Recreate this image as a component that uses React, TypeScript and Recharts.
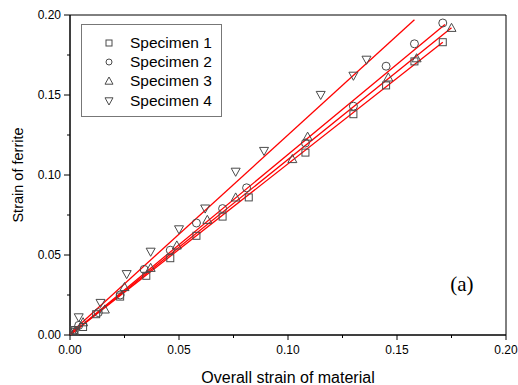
import React from 'react';
import {
  ScatterChart, Scatter, XAxis, YAxis, ReferenceArea, ReferenceDot, Legend,
} from 'recharts';

const specimen1 = [
  [0.002, 0.002], [0.006, 0.005], [0.012, 0.013], [0.023, 0.024], [0.035, 0.037],
  [0.046, 0.048], [0.058, 0.062], [0.070, 0.074], [0.082, 0.086], [0.108, 0.114],
  [0.130, 0.138], [0.145, 0.156], [0.158, 0.171], [0.171, 0.183],
];
const specimen2 = [
  [0.002, 0.003], [0.004, 0.006], [0.013, 0.014], [0.023, 0.025], [0.034, 0.041],
  [0.046, 0.053], [0.058, 0.070], [0.070, 0.079], [0.081, 0.092], [0.108, 0.120],
  [0.130, 0.143], [0.145, 0.168], [0.158, 0.182], [0.171, 0.195],
];
const specimen3 = [
  [0.002, 0.002], [0.006, 0.008], [0.016, 0.016], [0.025, 0.030], [0.037, 0.042],
  [0.049, 0.056], [0.063, 0.072], [0.076, 0.086], [0.102, 0.110], [0.109, 0.124],
  [0.146, 0.161], [0.159, 0.173], [0.175, 0.192],
];
const specimen4 = [
  [0.002, 0.003], [0.004, 0.011], [0.014, 0.020], [0.026, 0.038], [0.037, 0.052],
  [0.050, 0.066], [0.062, 0.079], [0.076, 0.102], [0.089, 0.115], [0.115, 0.150],
  [0.130, 0.162], [0.136, 0.172],
];

// fitted lines (start / end)
const fit1 = [[0, 0], [0.171, 0.183]];
const fit2 = [[0, 0], [0.172, 0.194]];
const fit3 = [[0, 0], [0.175, 0.192]];
const fit4 = [[0, 0.001], [0.158, 0.197]];

const ticks = [0, 0.025, 0.05, 0.075, 0.1, 0.125, 0.15, 0.175, 0.2];
const legendNames = ['Specimen 1', 'Specimen 2', 'Specimen 3', 'Specimen 4'];

const toXY = (arr: number[][]) => arr.map(([x, y]) => ({ x, y }));

const MARK = '#4a4a4a';
const FONT = '"Liberation Sans", Arial, sans-serif';

const isMajor = (v: number) => Math.round(v * 1000) % 50 === 0;

const Square = ({ cx, cy, s = 7 }: any) => (
  <rect x={cx - s / 2} y={cy - s / 2} width={s} height={s} fill="none" stroke={MARK} strokeWidth={1} />
);
const Circle = ({ cx, cy, s = 8 }: any) => (
  <circle cx={cx} cy={cy} r={s / 2} fill="none" stroke={MARK} strokeWidth={1} />
);
const TriUp = ({ cx, cy, s = 9 }: any) => (
  <polygon
    points={`${cx - s / 2},${cy + s * 0.4} ${cx + s / 2},${cy + s * 0.4} ${cx},${cy - s * 0.5}`}
    fill="none" stroke={MARK} strokeWidth={1}
  />
);
const TriDown = ({ cx, cy, s = 9 }: any) => (
  <polygon
    points={`${cx - s / 2},${cy - s * 0.4} ${cx + s / 2},${cy - s * 0.4} ${cx},${cy + s * 0.5}`}
    fill="none" stroke={MARK} strokeWidth={1}
  />
);
const shapes = [Square, Circle, TriUp, TriDown];

const XTick = ({ x, y, payload }: any) => {
  const major = isMajor(payload.value);
  return (
    <g>
      <line x1={x} x2={x} y1={y} y2={y + (major ? 5 : 3)} stroke="#000" />
      {major && (
        <text x={x} y={y + 19} textAnchor="middle" fontSize={12} fontFamily={FONT} fill="#000">
          {payload.value.toFixed(2)}
        </text>
      )}
    </g>
  );
};

const YTick = ({ x, y, payload }: any) => {
  const major = isMajor(payload.value);
  return (
    <g>
      <line x1={x} x2={x - (major ? 6 : 3)} y1={y} y2={y} stroke="#000" />
      {major && (
        <text x={x - 9} y={y + 4} textAnchor="end" fontSize={12} fontFamily={FONT} fill="#000">
          {payload.value.toFixed(2)}
        </text>
      )}
    </g>
  );
};

const LegendBox = () => (
  <div
    style={{
      border: '1px solid #777', width: 141, height: 93, boxSizing: 'border-box',
      paddingTop: 8, fontFamily: FONT, fontSize: 15.5, background: '#fff',
    }}
  >
    {legendNames.map((name, i) => {
      const S = shapes[i];
      return (
        <div key={name} style={{ display: 'flex', alignItems: 'center', height: 19.3 }}>
          <svg width={48} height={14} style={{ display: 'block' }}>
            <S cx={27} cy={7} s={i < 2 ? 6 : 8} />
          </svg>
          <span>{name}</span>
        </div>
      );
    })}
  </div>
);

export default function App() {
  const series = [specimen1, specimen2, specimen3, specimen4];
  const fits = [fit1, fit2, fit3, fit4];
  return (
    <div style={{ position: 'absolute', left: 0, top: 0, width: 518, height: 385, background: '#fff' }}>
      <ScatterChart width={518} height={385} margin={{ top: 15, right: 12, bottom: 0, left: 0 }}>
        <XAxis
          type="number" dataKey="x" domain={[0, 0.2]} ticks={ticks} interval={0}
          tick={<XTick />} tickLine={false} tickSize={0} tickMargin={0}
          axisLine={{ stroke: '#000' }} height={50}
          label={{ value: 'Overall strain of material', position: 'insideBottom', offset: 2, fontSize: 16, fontFamily: FONT, fill: '#000' }}
        />
        <YAxis
          type="number" dataKey="y" domain={[0, 0.2]} ticks={ticks} interval={0}
          tick={<YTick />} tickLine={false} tickSize={0} tickMargin={0}
          axisLine={{ stroke: '#000' }} width={70}
          label={{ value: 'Strain of ferrite', angle: -90, position: 'insideLeft', offset: 18, fontSize: 14.5, fontFamily: FONT, fill: '#000', style: { textAnchor: 'middle' } }}
        />
        <ReferenceArea x1={0} x2={0.2} y1={0} y2={0.2} fill="none" stroke="#000" strokeWidth={1} />
        {fits.map((f, i) => (
          <Scatter
            key={'fit' + i} data={toXY(f)} line={{ stroke: '#ff0000', strokeWidth: 1.3 }}
            shape={() => <g />} legendType="none" isAnimationActive={false}
          />
        ))}
        {series.map((s, i) => {
          const S = shapes[i];
          return (
            <Scatter
              key={legendNames[i]} name={legendNames[i]} data={toXY(s)}
              shape={(p: any) => <S cx={p.cx} cy={p.cy} />} isAnimationActive={false}
            />
          );
        })}
        <ReferenceDot
          x={0.1798} y={0.0319} r={0} fill="none" stroke="none"
          label={{ value: '(a)', position: 'center', fontSize: 21, fontFamily: '"Liberation Serif", "Times New Roman", serif', fill: '#000' }}
        />
        <Legend
          align="center" verticalAlign="middle" content={<LegendBox />}
          wrapperStyle={{ left: 81, top: 24, width: 141, height: 93 }}
        />
      </ScatterChart>
    </div>
  );
}
